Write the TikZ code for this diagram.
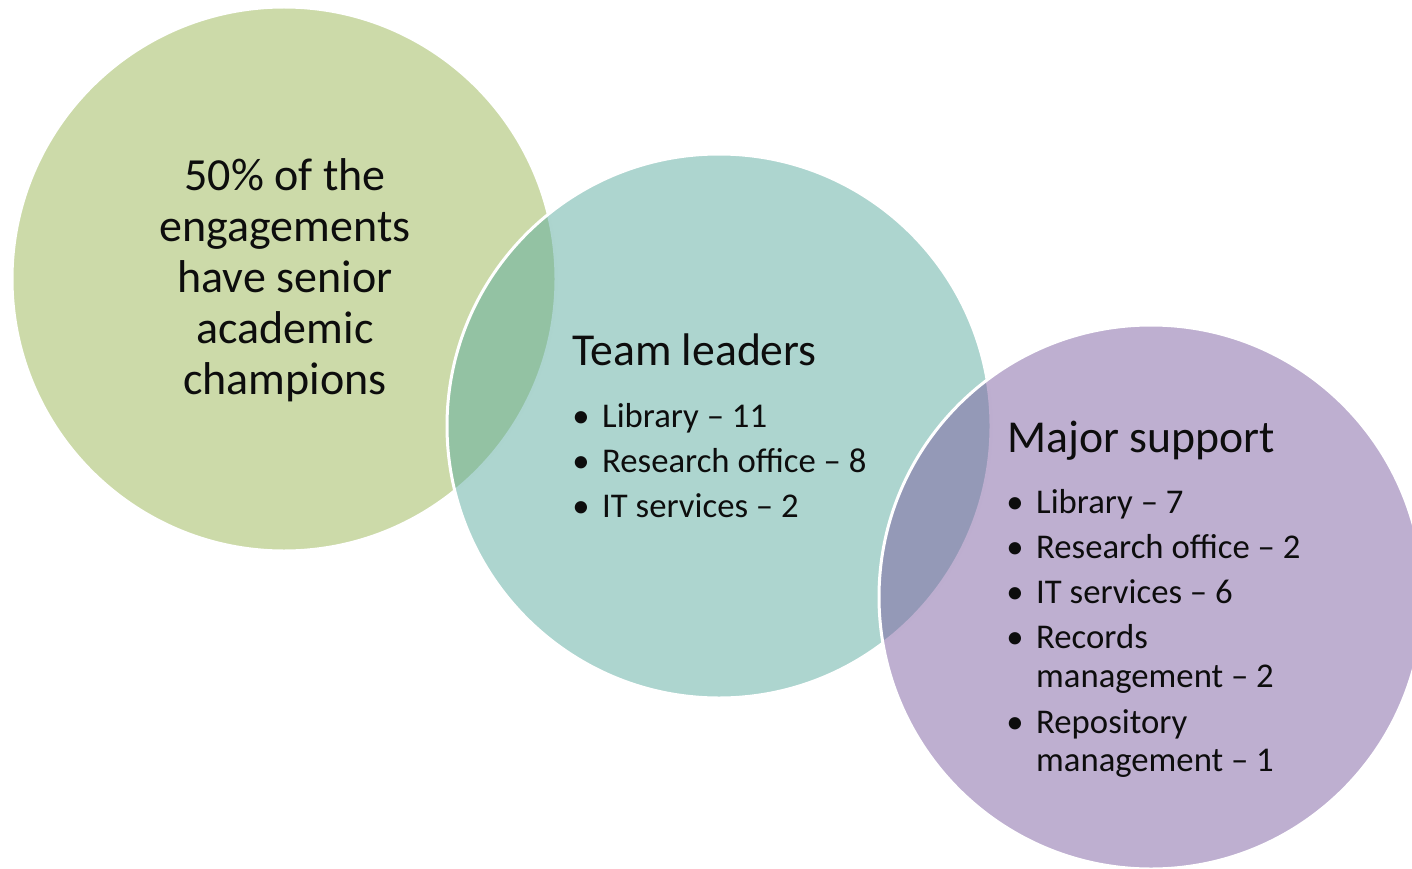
\documentclass[tikz,border=0pt]{standalone}
\usepackage{fontspec}
\setmainfont{Carlito}
\definecolor{cgreen}{HTML}{99B553}
\definecolor{cteal}{HTML}{5BAB9F}
\definecolor{cpurple}{HTML}{7D5FA1}
\definecolor{ink}{HTML}{0D0D0D}
\begin{document}
\begin{tikzpicture}[x=1pt,y=-1pt,
  venn/.style={circle, draw=white, line width=3pt, fill opacity=0.5, draw opacity=1, minimum size=544pt, inner sep=0pt},
  bigtxt/.style={font=\fontsize{46}{51}\selectfont, inner sep=0pt, anchor=base, text=ink},
  headtxt/.style={font=\fontsize{45.7}{54}\selectfont, inner sep=0pt, anchor=base west, text=ink},
  itemtxt/.style={font=\fontsize{34.7}{39}\selectfont, inner sep=0pt, anchor=base west, text=ink},
  dot/.style={font=\fontsize{34.7}{39}\selectfont, inner sep=0pt, anchor=base, text=ink}]
\useasboundingbox (0,0) rectangle (1412,869);
\clip (0,0) rectangle (1412,869);
\node[venn, fill=cgreen] (c1) at (284,279) {};
\node[venn, fill=cteal] (c2) at (719,426) {};
\node[venn, fill=cpurple] (c3) at (1151,597) {};
% circle 1
\node[bigtxt] (a1) at (285,190) {50\% of the};
\node[bigtxt] (a2) at (285,241) {engagements};
\node[bigtxt] (a3) at (285,292) {have senior};
\node[bigtxt] (a4) at (285,343) {academic};
\node[bigtxt] (a5) at (285,394) {champions};
% circle 2
\node[headtxt] (t0) at (572,365) {Team leaders};
\node[dot] (tb1) at (581,427) {•};
\node[itemtxt] (t1) at (602,427) {Library – 11};
\node[dot] (tb2) at (581,472) {•};
\node[itemtxt] (t2) at (602,472) {Research office – 8};
\node[dot] (tb3) at (581,517) {•};
\node[itemtxt] (t3) at (602,517) {IT services – 2};
% circle 3
\node[headtxt] (m0) at (1007,452) {Major support};
\node[dot] (mb1) at (1015,513) {•};
\node[itemtxt] (m1) at (1036,513) {Library – 7};
\node[dot] (mb2) at (1015,558) {•};
\node[itemtxt] (m2) at (1036,558) {Research office – 2};
\node[dot] (mb3) at (1015,603) {•};
\node[itemtxt] (m3) at (1036,603) {IT services – 6};
\node[dot] (mb4) at (1015,648) {•};
\node[itemtxt] (m4) at (1036,648) {Records};
\node[itemtxt] (m4b) at (1036,687) {management – 2};
\node[dot] (mb5) at (1015,733) {•};
\node[itemtxt] (m5) at (1036,733) {Repository};
\node[itemtxt] (m5b) at (1036,771) {management – 1};
\end{tikzpicture}
\end{document}
